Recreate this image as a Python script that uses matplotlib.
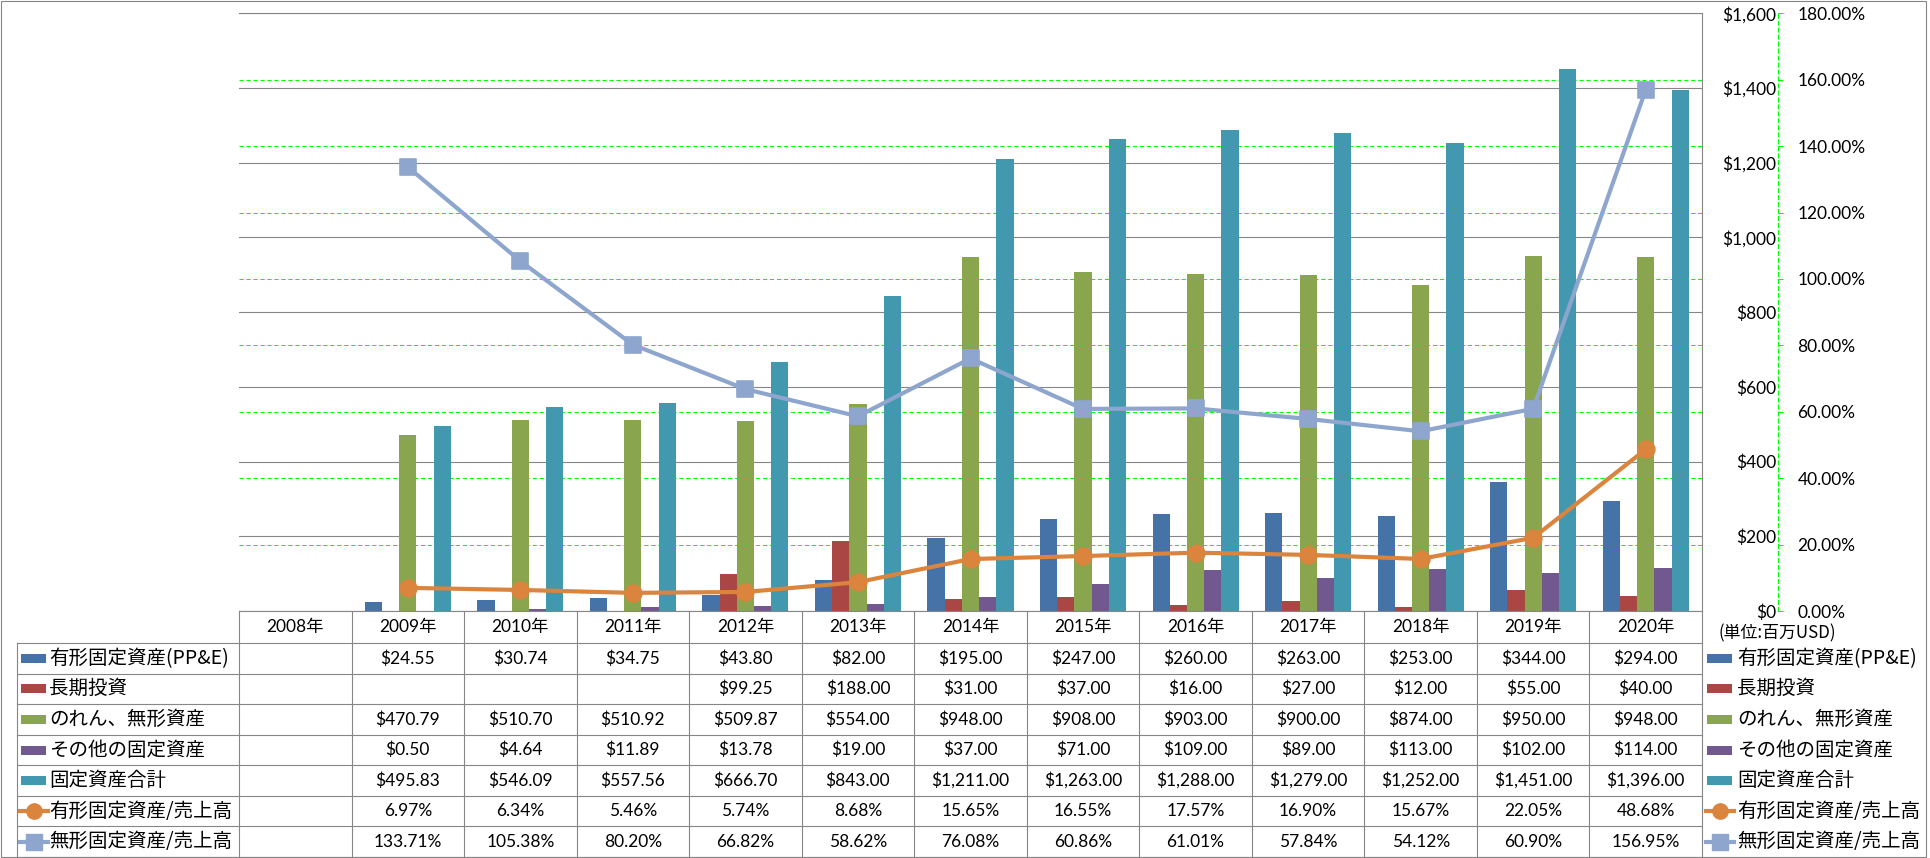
import numpy as np
import matplotlib
matplotlib.use("Agg")
import matplotlib.pyplot as plt
from matplotlib import transforms
from matplotlib.patches import Rectangle
from matplotlib.markers import MarkerStyle

plt.rcParams['font.family'] = ['Lato', 'Noto Sans CJK JP']

nan = np.nan
years = ["2008年", "2009年", "2010年", "2011年", "2012年", "2013年", "2014年",
         "2015年", "2016年", "2017年", "2018年", "2019年", "2020年"]

ppe = [nan, 24.55, 30.74, 34.75, 43.80, 82.00, 195.00, 247.00, 260.00, 263.00, 253.00, 344.00, 294.00]
long_inv = [nan, nan, nan, nan, 99.25, 188.00, 31.00, 37.00, 16.00, 27.00, 12.00, 55.00, 40.00]
goodwill = [nan, 470.79, 510.70, 510.92, 509.87, 554.00, 948.00, 908.00, 903.00, 900.00, 874.00, 950.00, 948.00]
other_fixed = [nan, 0.50, 4.64, 11.89, 13.78, 19.00, 37.00, 71.00, 109.00, 89.00, 113.00, 102.00, 114.00]
total_fixed = [nan, 495.83, 546.09, 557.56, 666.70, 843.00, 1211.00, 1263.00, 1288.00, 1279.00, 1252.00, 1451.00, 1396.00]
ppe_ratio = [nan, 6.97, 6.34, 5.46, 5.74, 8.68, 15.65, 16.55, 17.57, 16.90, 15.67, 22.05, 48.68]
intang_ratio = [nan, 133.71, 105.38, 80.20, 66.82, 58.62, 76.08, 60.86, 61.01, 57.84, 54.12, 60.90, 156.95]

bar_names = ["有形固定資産(PP&E)", "長期投資", "のれん、無形資産", "その他の固定資産", "固定資産合計"]
bar_values = [ppe, long_inv, goodwill, other_fixed, total_fixed]
bar_colors = ["#4572A7", "#AA4643", "#89A54E", "#71588F", "#4198AF"]
line_names = ["有形固定資産/売上高", "無形固定資産/売上高"]
line_values = [ppe_ratio, intang_ratio]
line_colors = ["#DB843D", "#8EA6CE"]
line_markers = ["o", "s"]

W, H = 1930, 858
GRAY = "#868686"
GREEN = "#00FF00"
DASH = (0, (4, 2.7))
NUM_FS = 12.5
JP_FS = 14

fig = plt.figure(figsize=(W / 100, H / 100), dpi=100)

# plot area in pixels
pl, pr, pt, pb = 239, 1702, 13.3, 611
ax = fig.add_axes([pl / W, 1 - pb / H, (pr - pl) / W, (pb - pt) / H])
x = np.arange(len(years))
bw = 0.153
for i, (vals, c) in enumerate(zip(bar_values, bar_colors)):
    ax.bar(x + (i - 2) * bw, vals, width=bw, color=c, zorder=2)

ax2 = ax.twinx()

ax.set_xlim(-0.5, len(years) - 0.5)
ax.set_ylim(0, 1600)
ax.set_xticks([])
ax.set_yticks(np.arange(0, 1601, 200))
ax.yaxis.set_major_formatter(lambda v, p: f"${v:,.0f}")
ax.yaxis.tick_right()
ax.tick_params(axis="y", which="both", left=False, labelleft=False, right=False,
               labelright=True, length=0, pad=53.3, labelsize=NUM_FS)
for lbl in ax.get_yticklabels(which="both"):
    lbl.set_horizontalalignment("right")
ax.set_axisbelow(True)
ax.yaxis.grid(True, color=GRAY, lw=0.8)
ax.spines["left"].set_visible(False)
for s in ["top", "right", "bottom"]:
    ax.spines[s].set_color(GRAY)
    ax.spines[s].set_linewidth(0.8)

ax2.set_ylim(0, 180)
pct_ticks = np.arange(0, 181, 20)
ax2.set_yticks(pct_ticks)
ax2.yaxis.set_major_formatter(lambda v, p: f"{v:.2f}%")
for s in ["top", "left", "bottom"]:
    ax2.spines[s].set_visible(False)
ax2.spines["right"].set_position(("axes", (1778 - pl) / (pr - pl)))
ax2.spines["right"].set_color(GREEN)
ax2.spines["right"].set_linestyle(DASH)
ax2.spines["right"].set_linewidth(0.75)
ax2.tick_params(axis="y", direction="out", length=3.3, width=0.75, color=GREEN,
                pad=10.8, labelsize=NUM_FS)

# green percent gridlines, kept behind the bars
blend = transforms.blended_transform_factory(ax.transAxes, ax2.transData)
for v in pct_ticks[1:-1]:
    ax.plot([0, 1], [v, v], transform=blend, color=GREEN, lw=0.75, ls=DASH, zorder=0.6)

for vals, c, m in zip(line_values, line_colors, line_markers):
    ms = MarkerStyle(m, joinstyle="round")
    ax2.plot(x, vals, color=c, lw=3, marker=ms, ms=12, mec=c, mew=1.2, zorder=3)

# data table + legend drawn in pixel coordinates
lay = fig.add_axes([0, 0, 1, 1])
lay.set_xlim(0, W)
lay.set_ylim(H, 0)
lay.axis("off")
colx = transforms.blended_transform_factory(ax.transData, lay.transData)

row_edges = [611, 643, 673.6, 704.1, 734.7, 765.3, 795.9, 826.4, 857]
for yb in row_edges[1:]:
    lay.plot([17, pr], [yb, yb], color=GRAY, lw=0.8)
for k in range(len(years) + 1):
    lay.plot([k - 0.5, k - 0.5], [611, 857], color=GRAY, lw=0.8, transform=colx)
lay.plot([17, 17], [643, 857], color=GRAY, lw=0.8)

for i, yr in enumerate(years):
    lay.text(i, (row_edges[0] + row_edges[1]) / 2, yr, transform=colx,
             ha="center", va="center", fontsize=NUM_FS)

names = bar_names + line_names
values = bar_values + line_values
fmts = ["${:,.2f}"] * 5 + ["{:.2f}%"] * 2
for r, (vals, fmt) in enumerate(zip(values, fmts)):
    yc = (row_edges[r + 1] + row_edges[r + 2]) / 2
    for i, v in enumerate(vals):
        if not np.isnan(v):
            lay.text(i, yc, fmt.format(v), transform=colx, ha="center", va="center",
                     fontsize=NUM_FS)


def draw_key(x0, yc, r):
    if r < 5:
        lay.add_patch(Rectangle((x0, yc - 4.5), 25, 9, color=bar_colors[r], lw=0))
    else:
        c = line_colors[r - 5]
        lay.plot([x0 - 1, x0 + 27], [yc, yc], color=c, lw=3)
        lay.plot([x0 + 13], [yc], marker=MarkerStyle(line_markers[r - 5], joinstyle="round"),
                 ms=11, color=c, mec=c)


for r, name in enumerate(names):
    yc = (row_edges[r + 1] + row_edges[r + 2]) / 2
    draw_key(20.5, yc, r)
    lay.text(49, yc, name, ha="left", va="center", fontsize=JP_FS,
             family=["Noto Sans CJK JP"])
    draw_key(1707, yc, r)
    lay.text(1737, yc, name, ha="left", va="center", fontsize=JP_FS,
             family=["Noto Sans CJK JP"])

lay.text(1719, 633, "(単位:百万USD)", ha="left", va="center", fontsize=12.2,
         family=["Noto Sans CJK JP"])

lay.add_patch(Rectangle((1, 1), 1925, 856, fill=False, ec=GRAY, lw=0.8))

fig.savefig("out.png", dpi=100)
